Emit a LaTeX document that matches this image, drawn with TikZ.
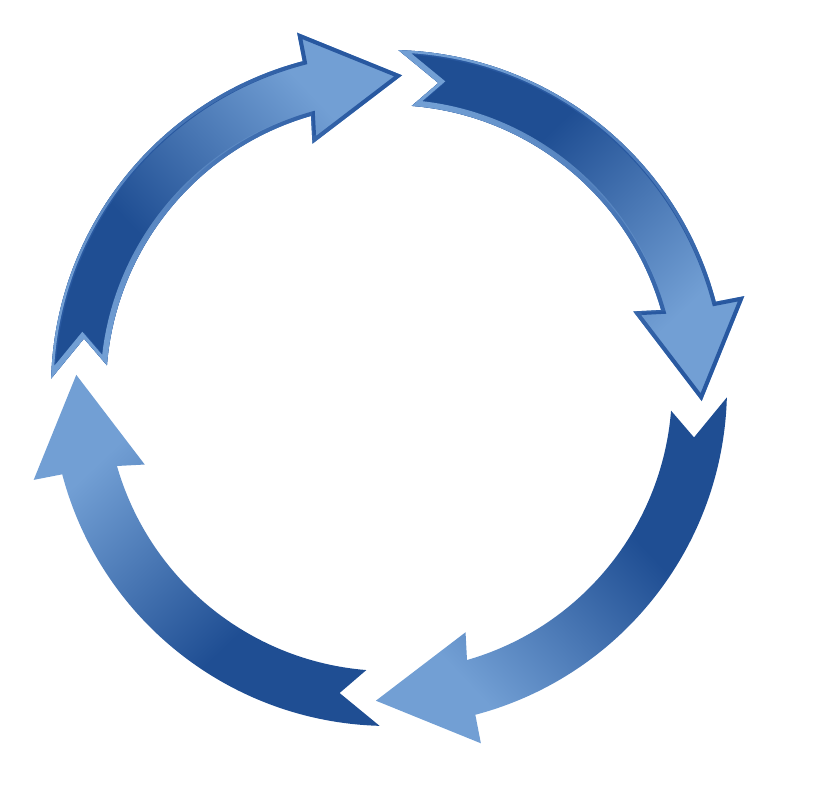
\documentclass[tikz,border=0pt]{standalone}
\usetikzlibrary{fadings}
\definecolor{cycledark}{RGB}{31,78,147}
\definecolor{cyclelight}{RGB}{114,159,212}
\definecolor{cycleedge}{RGB}{40,88,160}
\pgfdeclareverticalshading{cyclefade}{100bp}{color(0bp)=(cycledark); color(25bp)=(cycledark); color(38bp)=(cycledark); color(70bp)=(cyclelight); color(100bp)=(cyclelight)}
% one arrow of the cycle, tail at angle #1
\newcommand{\cyclearrow}[1]{(#1:338) arc[start angle=#1, end angle={#1-73.6}, radius=338] -- ({#1-73.9}:367) -- ({#1-90.8}:313) -- ({#1-71}:256) -- ({#1-72.4}:283) arc[start angle={#1-72.4}, end angle={#1-3}, radius=283] -- ({#1-7.6}:309) -- cycle}
\begin{document}
\begin{tikzpicture}[x=1pt, y=1pt, cycleborder/.style={line width=8, draw=cycleedge}]
\useasboundingbox (0,0) rectangle (817,800);
\begin{scope}[shift={(389,412)}]
\foreach \a/\o in {178.4/1, 88.4/1, -1.6/0, -91.6/0}{
  \pgfmathsetmacro{\s}{\a-225}
  \begin{scope}
    \clip \cyclearrow{\a};
    \shade[shading=cyclefade, shading angle=\s] \cyclearrow{\a};
    \draw[cycleborder, draw opacity=\o] \cyclearrow{\a};
    \draw[cycleborder, draw=cyclelight, draw opacity=\o, path fading=north, fading angle=\s] \cyclearrow{\a};
  \end{scope}
}
\end{scope}
\end{tikzpicture}
\end{document}
